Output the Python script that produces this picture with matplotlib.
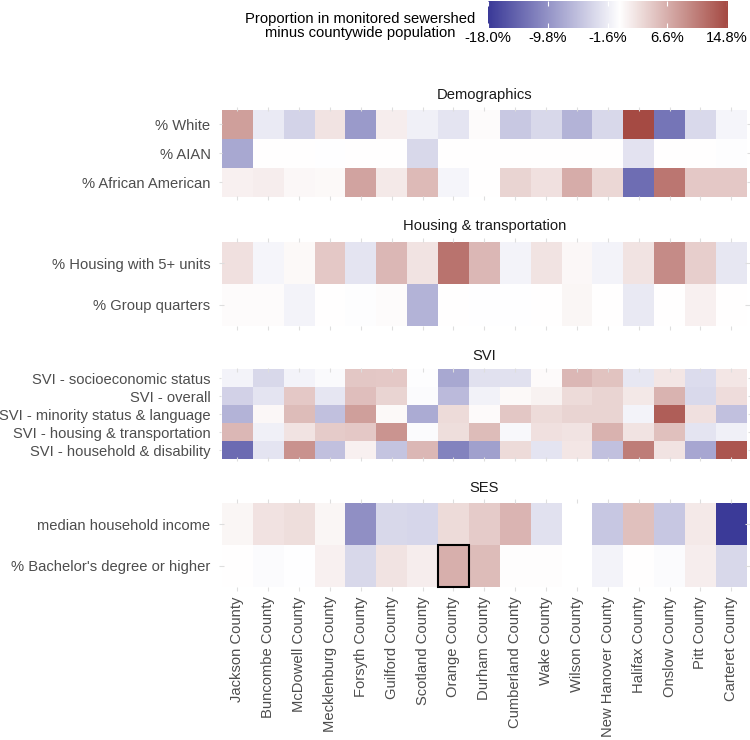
import matplotlib
matplotlib.use("Agg")
import matplotlib.pyplot as plt
import numpy as np
from matplotlib.colors import LinearSegmentedColormap, TwoSlopeNorm
from matplotlib.patches import Rectangle

plt.rcParams['font.family'] = ['Liberation Sans', 'DejaVu Sans']

counties = ["Jackson County", "Buncombe County", "McDowell County", "Mecklenburg County",
            "Forsyth County", "Guilford County", "Scotland County", "Orange County",
            "Durham County", "Cumberland County", "Wake County", "Wilson County",
            "New Hanover County", "Halifax County", "Onslow County", "Pitt County",
            "Carteret County"]

# difference (percentage points): monitored sewershed minus countywide
demo_rows = ["% White", "% AIAN", "% African American"]
pct_white = [7.8, -1.9, -4.0, 2.2, -9.2, 1.5, -1.3, -2.4, 0.3, -5.0, -3.6, -7.0, -3.6, 14.8, -12.6, -3.4, -0.9]
pct_aian = [-8.0, 0.0, 0.0, -0.1, 0.0, 0.1, -3.6, 0.0, 0.0, 0.0, 0.0, 0.0, 0.0, -2.6, 0.0, 0.0, -0.2]
pct_black = [1.2, 1.5, 0.6, 0.5, 7.5, 1.8, 5.6, -0.9, 0.1, 3.5, 2.5, 6.8, 3.3, -13.3, 11.1, 4.5, 4.5]

housing_rows = ["% Housing with 5+ units", "% Group quarters"]
pct_5plus = [2.5, -0.9, 0.5, 4.5, -2.4, 5.8, 2.2, 11.4, 5.8, -1.1, 2.2, 0.6, -1.0, 2.2, 9.4, 4.0, -2.2]
pct_group = [0.3, 0.3, -1.0, 0.0, -0.2, 0.3, -7.0, 0.0, -0.1, -0.1, 0.1, 0.7, 0.0, -2.0, 0.0, 1.2, 0.0]

svi_rows = ["SVI - socioeconomic status", "SVI - overall", "SVI - minority status & language",
            "SVI - housing & transportation", "SVI - household & disability"]
svi_ses = [-1.1, -3.6, -1.1, -0.5, 4.6, 4.5, -0.2, -8.0, -2.8, -2.7, 0.4, 5.8, 4.9, -2.2, 2.0, -3.2, 2.0]
svi_overall = [-4.1, -2.4, 4.5, -2.3, 5.3, 3.5, -0.3, -6.3, -1.2, 0.5, 1.1, 3.0, 3.5, 1.9, 6.2, -3.4, 2.8]
svi_minority = [-7.0, 0.6, 5.5, -5.7, 7.8, 0.5, -7.6, 3.0, 0.4, 4.6, 2.9, 3.5, 3.5, -1.0, 13.1, 2.5, -5.7]
svi_housing = [5.8, -1.4, 2.2, 4.2, 4.4, 8.7, -0.4, 2.7, 5.5, -0.6, 2.5, 2.2, 6.3, 2.2, 5.1, -2.5, -1.4]
svi_household = [-13.5, -2.4, 8.9, -5.7, 1.2, -5.4, 5.8, -11.3, -8.6, 3.0, -2.4, 2.0, -5.7, 10.6, 2.2, -8.1, 13.8]

ses_rows = ["median household income", "% Bachelor's degree or higher"]
med_income = [0.8, 2.4, 2.7, 0.7, -10.2, -3.6, -3.7, 2.9, 4.2, 6.1, -2.8, np.nan, -5.1, 5.1, -5.2, 1.8, -18.0]
pct_bachelor = [0.0, -0.4, -0.1, 1.2, -3.6, 2.2, 1.4, 6.5, 5.5, 0.2, 0.2, np.nan, -1.0, 0.0, -0.3, 1.4, -3.6]

legend_ticks = [-18.0, -9.8, -1.6, 6.6, 14.8]
highlight = ("Orange County", "% Bachelor's degree or higher")

panels = [
    ("Demographics", demo_rows, [pct_white, pct_aian, pct_black], 107.1, 199.6),
    ("Housing & transportation", housing_rows, [pct_5plus, pct_group], 238.1, 329.9),
    ("SVI", svi_rows, [svi_ses, svi_overall, svi_minority, svi_housing, svi_household], 367.5, 460.8),
    ("SES", ses_rows, [med_income, pct_bachelor], 499.2, 590.8),
]

W, H = 750, 740
def fig_rect(x0, y0, x1, y1):
    return [x0 / W, 1 - y1 / H, (x1 - x0) / W, (y1 - y0) / H]

cmap = LinearSegmentedColormap.from_list("div", ["#3B3A98", "#FFFFFF", "#A54A43"])
norm = TwoSlopeNorm(vmin=-18.0, vcenter=0.0, vmax=14.8)
grid_col = "#dedede"
fs = 10.6

fig = plt.figure(figsize=(7.5, 7.4), dpi=100)
nc = len(counties)

for i, (title, rows, vals, top, bot) in enumerate(panels):
    ax = fig.add_axes(fig_rect(218.9, top, 749.8, bot))
    n = len(rows)
    data = np.ma.masked_invalid(np.array(vals, dtype=float))
    ax.pcolormesh(np.arange(nc + 1) - 0.5, np.arange(n + 1) - 0.5, data,
                  cmap=cmap, norm=norm, shading='flat', antialiased=False, linewidth=0)
    ax.set_xlim(-0.6, nc - 0.4)
    ax.set_ylim(n - 0.4, -0.6)
    for s in ax.spines.values():
        s.set_visible(False)
    ax.set_xticks(range(nc))
    ax.set_yticks(range(n))
    ax.set_yticklabels(rows)
    row_px = (bot - top) / (n + 0.2)
    col_px = 530.9 / (nc + 0.2)
    ax.tick_params(axis='x', direction='in', length=col_px * 0.1 * 0.72 + 0.3, width=0.8,
                   color=grid_col, top=True, bottom=True, labelbottom=(i == len(panels) - 1),
                   labelsize=fs, labelcolor='#4d4d4d', labelrotation=90, pad=4)
    ax.tick_params(axis='y', direction='in', length=row_px * 0.1 * 0.72 + 0.3, width=0.8,
                   color=grid_col, left=True, right=True, labelsize=fs,
                   labelcolor='#4d4d4d', pad=6)
    if i == len(panels) - 1:
        ax.set_xticklabels(counties, va='top', ha='center')
    ax.annotate(title, xy=(0.5, 1), xycoords='axes fraction', xytext=(0, 5.5),
                textcoords='offset points', ha='center', va='baseline',
                fontsize=fs, color='#1a1a1a')
    if highlight[1] in rows:
        cx = counties.index(highlight[0])
        cy = rows.index(highlight[1])
        ax.add_patch(Rectangle((cx - 0.5, cy - 0.5), 1, 1, fill=False,
                               edgecolor='black', linewidth=1.5, zorder=5))

# colour bar legend
cax = fig.add_axes(fig_rect(488, 0.5, 727, 28.5))
grad = np.linspace(-18.0, 14.8, 400).reshape(1, -1)
cax.imshow(grad, aspect='auto', cmap=cmap, norm=norm, extent=[-18.0, 14.8, 0, 1])
cax.set_xlim(-18.0, 14.8)
cax.set_ylim(0, 1)
for s in cax.spines.values():
    s.set_visible(False)
cax.set_yticks([])
cax.set_xticks(legend_ticks)
cax.set_xticklabels([f"{t:.1f}%" for t in legend_ticks])
cax.tick_params(axis='x', length=0, pad=2, labelsize=fs)
cax.vlines(legend_ticks, 0, 0.18, colors='white', linewidth=0.8)
cax.vlines(legend_ticks, 0.82, 1, colors='white', linewidth=0.8)

fig.text(360 / W, 1 - 22.7 / H, "Proportion in monitored sewershed", ha='center',
         va='baseline', fontsize=fs)
fig.text(360 / W, 1 - 37.3 / H, "minus countywide population", ha='center',
         va='baseline', fontsize=fs)

fig.savefig("out.png", dpi=100)
